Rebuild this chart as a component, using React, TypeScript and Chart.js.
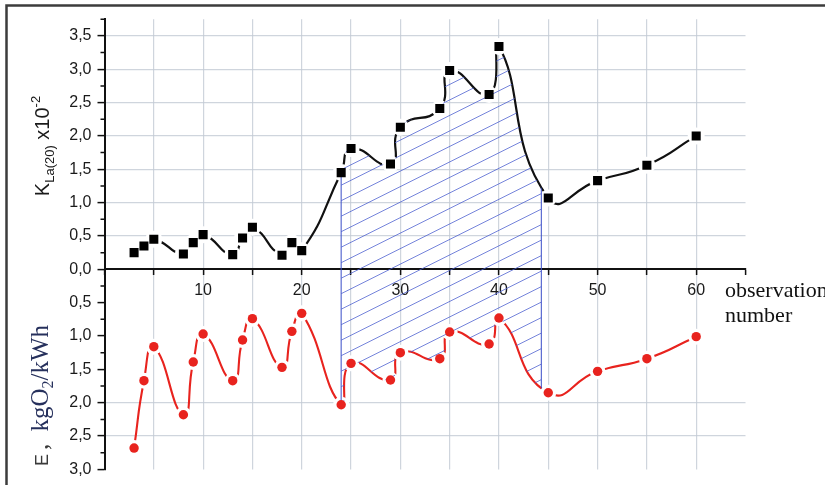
import React, { useEffect, useRef } from 'react';
import Chart from 'chart.js/auto';

// ---- data ----
const observations = [3, 4, 5, 8, 9, 10, 13, 14, 15, 18, 19, 20, 24, 25, 29, 30, 34, 35, 39, 40, 45, 50, 55, 60];
const klaValues = [0.25, 0.35, 0.45, 0.23, 0.40, 0.52, 0.22, 0.47, 0.63, 0.21, 0.40, 0.28, 1.45, 1.81, 1.58, 2.13, 2.41, 2.98, 2.62, 3.34, 1.07, 1.33, 1.56, 2.00];
const energyValues = [2.68, 1.67, 1.16, 2.18, 1.39, 0.97, 1.67, 1.06, 0.74, 1.47, 0.93, 0.66, 2.03, 1.41, 1.66, 1.25, 1.34, 0.94, 1.12, 0.73, 1.85, 1.53, 1.34, 1.01];
const hatchStart = 24;
const hatchEnd = 44.3;
const xLabeledTicks = [10, 20, 30, 40, 50, 60];
const xGridTicks = [5, 10, 15, 20, 25, 30, 35, 40, 45, 50, 55, 60];
const kGridValues = [0.5, 1.0, 1.5, 2.0, 2.5, 3.0, 3.5];
const eGridValues = [2.0, 2.5];

const SANS = '"Liberation Sans", Arial, sans-serif';
const SERIF = '"Liberation Serif", "Times New Roman", serif';

const near = (v: number, arr: number[]) => arr.some((a) => Math.abs(a - v) < 1e-6);
const isHalf = (v: number) => Math.abs(v * 2 - Math.round(v * 2)) < 1e-6;
const fmt = (v: number) => Math.abs(v).toFixed(1).replace('.', ',');

type Part = { text: string; font: string; color: string; dy?: number; gap?: number };

function measureParts(ctx: CanvasRenderingContext2D, parts: Part[]) {
  let w = 0;
  for (const p of parts) {
    ctx.font = p.font;
    w += ctx.measureText(p.text).width + (p.gap || 0);
  }
  return w;
}

function drawVertical(ctx: CanvasRenderingContext2D, parts: Part[], x: number, yStart: number) {
  ctx.save();
  ctx.translate(x, yStart);
  ctx.rotate(-Math.PI / 2);
  ctx.textAlign = 'left';
  ctx.textBaseline = 'alphabetic';
  let cx = 0;
  for (const p of parts) {
    ctx.font = p.font;
    ctx.fillStyle = p.color;
    ctx.fillText(p.text, cx, p.dy || 0);
    cx += ctx.measureText(p.text).width + (p.gap || 0);
  }
  ctx.restore();
}

export default function App() {
  const ref = useRef<HTMLCanvasElement>(null);

  useEffect(() => {
    const canvas = ref.current;
    if (!canvas) return;
    const kPts = observations.map((x, i) => ({ x, y: klaValues[i] }));
    const ePts = observations.map((x, i) => ({ x, y: -energyValues[i] }));

    const hatchPlugin = {
      id: 'hatch',
      afterDatasetDraw(chart: any, args: any) {
        if (args.index !== 3) return;
        const ctx: CanvasRenderingContext2D = chart.ctx;
        const area = chart.chartArea;
        const xs = chart.scales.x;
        const kLine = chart.getDatasetMeta(0).dataset;
        const eLine = chart.getDatasetMeta(1).dataset;
        if (kLine.updateControlPoints) kLine.updateControlPoints(area, 'x');
        if (eLine.updateControlPoints) eLine.updateControlPoints(area, 'x');
        const x0 = xs.getPixelForValue(hatchStart);
        const x1 = xs.getPixelForValue(hatchEnd);
        ctx.save();
        ctx.beginPath();
        kLine.path(ctx);
        ctx.lineTo(area.right, area.bottom);
        ctx.lineTo(area.left, area.bottom);
        ctx.closePath();
        ctx.clip();
        ctx.beginPath();
        eLine.path(ctx);
        ctx.lineTo(area.right, area.top);
        ctx.lineTo(area.left, area.top);
        ctx.closePath();
        ctx.clip();
        ctx.save();
        ctx.beginPath();
        ctx.rect(x0, area.top, x1 - x0, area.bottom - area.top);
        ctx.clip();
        ctx.strokeStyle = 'rgba(70, 90, 205, 0.75)';
        ctx.lineWidth = 1;
        const slope = 0.5;
        const spacing = 15.5;
        ctx.beginPath();
        for (let y = area.top - 20; y < area.bottom + (x1 - x0) * slope + 20; y += spacing) {
          ctx.moveTo(x0, y);
          ctx.lineTo(x1, y - (x1 - x0) * slope);
        }
        ctx.stroke();
        ctx.restore();
        ctx.strokeStyle = 'rgba(60, 80, 200, 0.85)';
        ctx.lineWidth = 1.2;
        ctx.beginPath();
        ctx.moveTo(x0, area.top);
        ctx.lineTo(x0, area.bottom);
        ctx.moveTo(x1, area.top);
        ctx.lineTo(x1, area.bottom);
        ctx.stroke();
        ctx.restore();
      },
    };

    const decorPlugin = {
      id: 'decor',
      afterDraw(chart: any) {
        const ctx: CanvasRenderingContext2D = chart.ctx;
        const ys = chart.scales.y;
        const area = chart.chartArea;
        // minor ticks on y axis
        ctx.save();
        ctx.strokeStyle = '#111';
        ctx.lineWidth = 1.5;
        ctx.beginPath();
        for (const t of ys.ticks) {
          if (isHalf(t.value)) continue;
          const py = ys.getPixelForValue(t.value);
          ctx.moveTo(area.left - 4, py);
          ctx.lineTo(area.left, py);
        }
        ctx.stroke();
        ctx.restore();

        // axis titles
        const kParts: Part[] = [
          { text: 'K', font: `20px ${SANS}`, color: '#1a1a1a' },
          { text: 'La(20)', font: `13px ${SANS}`, color: '#1a1a1a', dy: 5 },
          { text: ' x10', font: `20px ${SANS}`, color: '#1a1a1a' },
          { text: '-2', font: `13px ${SANS}`, color: '#1a1a1a', dy: -9 },
        ];
        const kw = measureParts(ctx, kParts);
        drawVertical(ctx, kParts, 49, 146 + kw / 2);

        const eParts: Part[] = [
          { text: 'E', font: `18px ${SANS}`, color: '#3a3a3a', gap: 4 },
          { text: ', ', font: `25px ${SERIF}`, color: '#3a3a3a', gap: 6 },
          { text: 'kgO', font: `25px ${SERIF}`, color: '#26305c' },
          { text: '2', font: `16px ${SERIF}`, color: '#26305c', dy: 5 },
          { text: '/kWh', font: `25px ${SERIF}`, color: '#26305c' },
        ];
        drawVertical(ctx, eParts, 48, 466);

        // x axis caption
        ctx.save();
        ctx.fillStyle = '#111';
        ctx.font = `22px ${SERIF}`;
        ctx.textAlign = 'left';
        ctx.textBaseline = 'alphabetic';
        ctx.fillText('observation', 725, 297);
        ctx.fillText('number', 725, 322);
        ctx.restore();

        // frame
        ctx.save();
        ctx.strokeStyle = '#3c3c3c';
        ctx.lineWidth = 2.5;
        ctx.beginPath();
        ctx.moveTo(6.5, 485);
        ctx.lineTo(6.5, 5.5);
        ctx.lineTo(825, 5.5);
        ctx.stroke();
        ctx.restore();
      },
    };

    const red = '#e8231e';
    const curveTension = 0.55;
    const chart = new Chart(canvas, {
      type: 'line',
      data: {
        datasets: [
          { label: 'kLine', data: kPts, borderColor: '#111', borderWidth: 2.2, pointRadius: 0, tension: curveTension, fill: false, order: 6 },
          { label: 'eLine', data: ePts, borderColor: red, borderWidth: 2.1, pointRadius: 0, tension: curveTension, fill: false, order: 5 },
          { label: 'kHalo', data: kPts, showLine: false, pointStyle: 'circle', pointRadius: 8.5, pointBackgroundColor: '#fff', pointBorderWidth: 0, order: 4 },
          { label: 'eHalo', data: ePts, showLine: false, pointStyle: 'circle', pointRadius: 8, pointBackgroundColor: '#fff', pointBorderWidth: 0, order: 3 },
          { label: 'kMark', data: kPts, showLine: false, pointStyle: 'rect', pointRadius: 6.4, pointBackgroundColor: '#000', pointBorderWidth: 0, order: 2 },
          { label: 'eMark', data: ePts, showLine: false, pointStyle: 'circle', pointRadius: 4.7, pointBackgroundColor: red, pointBorderWidth: 0, order: 1 },
        ] as any,
      },
      options: {
        responsive: false,
        animation: false,
        events: [],
        layout: { padding: { left: 0, top: 19.2, right: 79.5, bottom: 11.7 } },
        plugins: { legend: { display: false }, tooltip: { enabled: false } },
        scales: {
          x: {
            type: 'linear',
            min: 0,
            max: 65,
            position: { y: 0 } as any,
            border: { display: true, color: '#111', width: 2 },
            grid: {
              color: (c: any) => (near(c.tick.value, xGridTicks) ? 'rgba(195,202,212,0.8)' : 'rgba(0,0,0,0)'),
              lineWidth: 1.2,
              drawTicks: true,
              tickLength: 5,
              tickColor: '#111',
              tickWidth: 1.5,
            },
            ticks: {
              stepSize: 5,
              autoSkip: false,
              maxRotation: 0,
              padding: 7,
              color: '#1a1a1a',
              font: { family: SANS, size: 16 },
              callback: (v: any) => (near(Number(v), xLabeledTicks) ? String(v) : ''),
            },
          },
          y: {
            type: 'linear',
            min: -3,
            max: 3.75,
            afterFit: (s: any) => {
              s.width = 104.5;
            },
            border: { display: true, color: '#111', width: 2 },
            grid: {
              color: (c: any) => {
                const v = c.tick.value;
                return near(v, kGridValues) || near(-v, eGridValues) ? 'rgba(195,202,212,0.8)' : 'rgba(0,0,0,0)';
              },
              lineWidth: 1.2,
              drawTicks: true,
              tickLength: 7,
              tickColor: (c: any) => (isHalf(c.tick.value) ? '#111' : 'rgba(0,0,0,0)'),
              tickWidth: 1.5,
            },
            ticks: {
              stepSize: 0.25,
              autoSkip: false,
              padding: 6,
              color: '#1a1a1a',
              font: { family: SANS, size: 16 },
              callback: (v: any) => (isHalf(Number(v)) ? fmt(Number(v)) : ''),
            },
          },
        },
      },
      plugins: [hatchPlugin, decorPlugin],
    });
    return () => chart.destroy();
  }, []);

  return (
    <div style={{ position: 'fixed', left: 0, top: 0, width: 825, height: 485, background: '#fff' }}>
      <canvas ref={ref} width={825} height={485} style={{ display: 'block', width: 825, height: 485 }} />
    </div>
  );
}
